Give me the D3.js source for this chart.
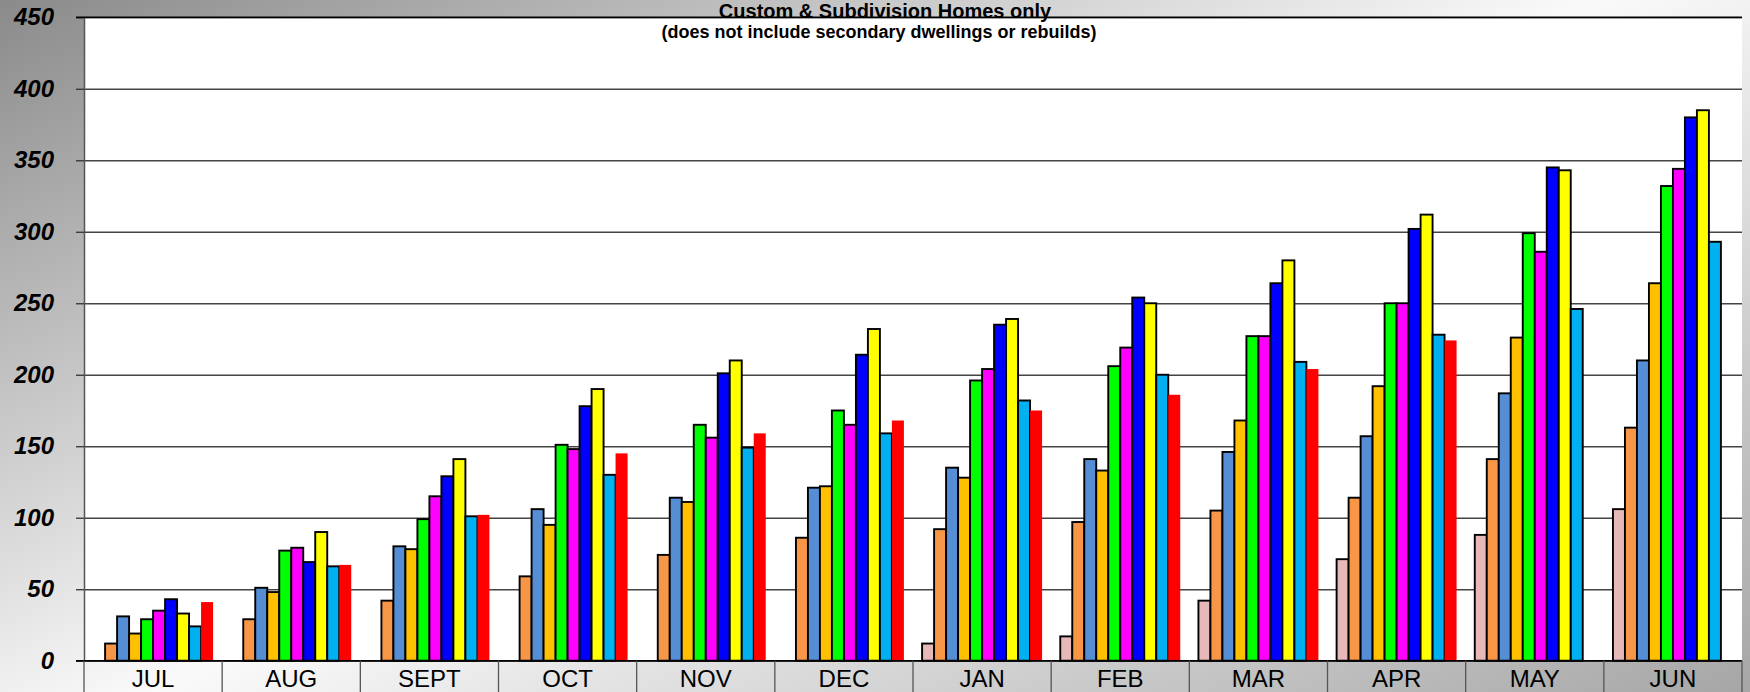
<!DOCTYPE html>
<html>
<head>
<meta charset="utf-8">
<script src="https://cdn.jsdelivr.net/npm/d3@7"></script>
<style>
  body { margin: 0; }
  svg { display: block; font-family: "Liberation Sans", Arial, sans-serif; }
</style>
</head>
<body>
<script>
const WIDTH = 1750
const HEIGHT = 692
const LEFT = 84, RIGHT = 1742, TOP = 17.3, BASE = 660.7

// data
const months = ['JUL', 'AUG', 'SEPT', 'OCT', 'NOV', 'DEC', 'JAN', 'FEB', 'MAR', 'APR', 'MAY', 'JUN']
const seriesKeys = ['s1', 's2', 's3', 's4', 's5', 's6', 's7', 's8', 's9', 's10']
const seriesColors = ['#e6b9b8', '#f79646', '#558ed5', '#ffc000', '#00ff00', '#ff00ff', '#0000ff', '#ffff00', '#00b0f0', '#ff0000']
const s1 = [null, null, null, null, null, null, 12, 17, 42, 71, 88, 106]
const s2 = [12, 29, 42, 59, 74, 86, 92, 97, 105, 114, 141, 163]
const s3 = [31, 51, 80, 106, 114, 121, 135, 141, 146, 157, 187, 210]
const s4 = [19, 48, 78, 95, 111, 122, 128, 133, 168, 192, 226, 264]
const s5 = [29, 77, 99, 151, 165, 175, 196, 206, 227, 250, 299, 332]
const s6 = [35, 79, 115, 148, 156, 165, 204, 219, 227, 250, 286, 344]
const s7 = [43, 69, 129, 178, 201, 214, 235, 254, 264, 302, 345, 380]
const s8 = [33, 90, 141, 190, 210, 232, 239, 250, 280, 312, 343, 385]
const s9 = [24, 66, 101, 130, 149, 159, 182, 200, 209, 228, 246, 293]
const s10 = [41, 67, 102, 145, 159, 168, 175, 186, 204, 224, null, null]
const seriesValues = [s1, s2, s3, s4, s5, s6, s7, s8, s9, s10]
const yTicks = [0, 50, 100, 150, 200, 250, 300, 350, 400, 450]
const title = 'Custom & Subdivision Homes only'
const subtitle = '(does not include secondary dwellings or rebuilds)'

const svg = d3.select('body').append('svg').attr('width', WIDTH).attr('height', HEIGHT)

// background gradient
const grad = svg.append('defs').append('linearGradient')
    .attr('id', 'bg').attr('gradientUnits', 'userSpaceOnUse')
    .attr('x1', 0).attr('y1', 0).attr('x2', 594).attr('y2', 1244)
grad.append('stop').attr('offset', 0).attr('stop-color', '#8a8a8a')
grad.append('stop').attr('offset', 0.5).attr('stop-color', '#fafafa')
grad.append('stop').attr('offset', 1).attr('stop-color', '#a6a6a6')
svg.append('rect').attr('width', WIDTH).attr('height', HEIGHT).attr('fill', 'url(#bg)')

svg.append('rect').attr('x', LEFT).attr('y', TOP)
    .attr('width', RIGHT - LEFT).attr('height', BASE - TOP).attr('fill', '#fff')

const y = d3.scaleLinear().domain([0, 450]).range([BASE, TOP])
const x = d3.scaleBand().domain(months).range([LEFT, RIGHT])
    .paddingInner(0.1317).paddingOuter(0.0658)
const xs = d3.scaleBand().domain(seriesKeys).range([0, x.bandwidth()])

// gridlines
svg.append('g').attr('transform', `translate(${LEFT},0)`)
    .call(d3.axisLeft(y).tickValues(yTicks).tickSize(-(RIGHT - LEFT)).tickFormat(''))
    .call(g => g.select('.domain').remove())
    .call(g => g.selectAll('line').attr('stroke', '#444').attr('stroke-width', 1.4))

// bars
seriesKeys.forEach((k, i) => {
    const rows = months.map((m, j) => ({ m, v: seriesValues[i][j] })).filter(d => d.v != null)
    svg.append('g').selectAll('rect')
        .data(rows)
        .enter()
        .append('rect')
        .attr('x', d => x(d.m) + xs(k))
        .attr('width', xs.bandwidth())
        .attr('y', d => y(d.v))
        .attr('height', d => y(0) - y(d.v))
        .attr('fill', seriesColors[i])
        .attr('stroke', k === 's10' ? 'none' : '#000')
        .attr('stroke-width', 1.9)
})

// y axis
svg.append('g').attr('transform', `translate(${LEFT},0)`)
    .call(d3.axisLeft(y).tickValues(yTicks).tickSize(8).tickPadding(22))
    .call(g => g.select('.domain').attr('stroke', '#555').attr('stroke-width', 1.5))
    .call(g => g.selectAll('line').attr('stroke', '#333').attr('stroke-width', 1.3))
    .call(g => g.selectAll('text').attr('fill', '#000')
        .style('font-size', '24px').style('font-weight', 'bold').style('font-style', 'italic'))

// top border and baseline
svg.append('line').attr('x1', LEFT - 8).attr('x2', RIGHT).attr('y1', y(450)).attr('y2', y(450))
    .attr('stroke', '#000').attr('stroke-width', 1.5)
svg.append('line').attr('x1', LEFT - 8).attr('x2', RIGHT).attr('y1', y(0)).attr('y2', y(0))
    .attr('stroke', '#000').attr('stroke-width', 1.5)

// category cells
const bounds = months.map(m => x(m) - x.step() * x.paddingOuter()).concat([RIGHT])
svg.append('g').selectAll('line')
    .data(bounds)
    .enter()
    .append('line')
    .attr('x1', d => d).attr('x2', d => d)
    .attr('y1', BASE).attr('y2', HEIGHT)
    .attr('stroke', '#555').attr('stroke-width', 1.3)

svg.append('g').attr('transform', `translate(0,${BASE})`)
    .call(d3.axisBottom(x).tickSize(0).tickPadding(0))
    .call(g => g.select('.domain').remove())
    .call(g => g.selectAll('text').attr('fill', '#000').attr('y', 26.5).attr('dy', 0)
        .style('font-size', '24px'))

// titles
svg.append('text').attr('x', 885).attr('y', 18.3).attr('text-anchor', 'middle')
    .style('font-size', '20px').style('font-weight', 'bold').text(title)
svg.append('text').attr('x', 879).attr('y', 37.5).attr('text-anchor', 'middle')
    .style('font-size', '18px').style('font-weight', 'bold').text(subtitle)
</script>
</body>
</html>
